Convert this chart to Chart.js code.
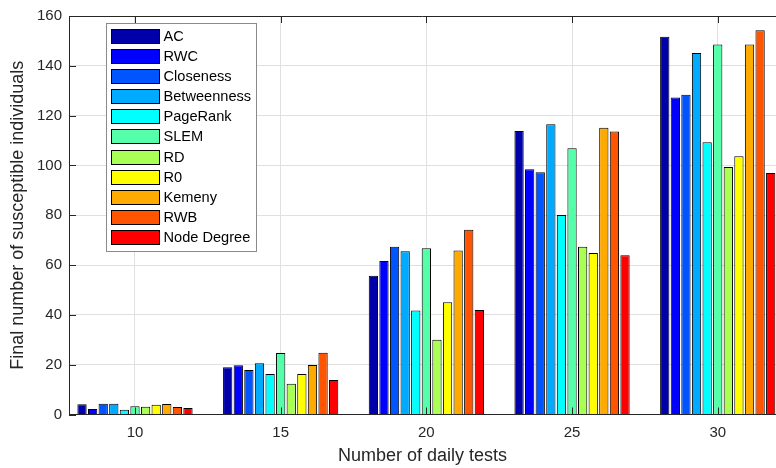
<!DOCTYPE html>
<html>
<head>
<meta charset="utf-8">
<script src="https://cdn.jsdelivr.net/npm/chart.js@4.4.1/dist/chart.umd.min.js"></script>
<style>
    html, body { margin: 0; padding: 0; background: #fff; overflow: hidden; }
</style>
</head>
<body>
<canvas id="chart1" width="776" height="468"></canvas>
<script>
// Etiquetas del eje x (número de pruebas diarias).
const PRUEBAS = [10, 15, 20, 25, 30];
// Marcas del eje y.
const MARCAS_Y = [0, 20, 40, 60, 80, 100, 120, 140, 160];
// Nombres de los métodos que aparecen en la leyenda.
const METODOS = ['AC', 'RWC', 'Closeness', 'Betweenness', 'PageRank', 'SLEM', 'RD', 'R0', 'Kemeny', 'RWB', 'Node Degree'];
// Colores de cada método (mapa jet).
const COLORES = ['#0000aa', '#0000ff', '#0055ff', '#00aaff', '#00ffff', '#55ffaa', '#aaff55', '#ffff00', '#ffaa00', '#ff5500', '#ff0000'];

// Valores finales de individuos susceptibles por método, uno por cada número de pruebas.
const AC = [4.1, 19.0, 55.7, 113.8, 151.7];
const RWC = [2.2, 19.8, 61.6, 98.5, 127.3];
const CLOSENESS = [4.3, 17.9, 67.4, 97.3, 128.4];
const BETWEENNESS = [4.3, 20.6, 65.5, 116.5, 145.1];
const PAGERANK = [1.9, 16.3, 41.8, 80.1, 109.3];
const SLEM = [3.3, 24.7, 66.8, 106.9, 148.6];
const RD = [3.1, 12.3, 30.0, 67.4, 99.4];
const R0 = [3.9, 16.3, 45.1, 64.8, 103.7];
const KEMENY = [4.2, 19.9, 65.8, 115.1, 148.6];
const RWB = [3.0, 24.8, 74.2, 113.6, 154.3];
const NODE_DEGREE = [2.6, 13.9, 42.0, 63.9, 97.0];

const SERIES = [AC, RWC, CLOSENESS, BETWEENNESS, PAGERANK, SLEM, RD, R0, KEMENY, RWB, NODE_DEGREE];

const COLOR_EJE = '#262626';
const FUENTE = '"Liberation Sans", Arial, Helvetica, sans-serif';

/*
*   Plugin para dibujar el marco superior, las marcas interiores y la leyenda.
*/
const marcoPlugin = {
    id: 'marco',
    afterDatasetsDraw: (chart) => {
        const ctx = chart.ctx;
        const area = chart.chartArea;
        const ejeX = chart.scales.x;
        const ejeY = chart.scales.y;
        ctx.save();
        ctx.strokeStyle = COLOR_EJE;
        ctx.lineWidth = 1;
        ctx.beginPath();
        // Línea superior del marco.
        const arriba = Math.round(area.top) + 0.5;
        ctx.moveTo(area.left, arriba);
        ctx.lineTo(area.right, arriba);
        // Marcas del eje x, abajo y arriba, hacia adentro.
        PRUEBAS.forEach(valor => {
            const px = Math.round(ejeX.getPixelForValue(valor)) + 0.5;
            ctx.moveTo(px, area.bottom);
            ctx.lineTo(px, area.bottom - 7);
            ctx.moveTo(px, area.top);
            ctx.lineTo(px, area.top + 7);
        });
        // Marcas del eje y hacia adentro.
        MARCAS_Y.forEach(valor => {
            const py = Math.round(ejeY.getPixelForValue(valor)) + 0.5;
            ctx.moveTo(area.left, py);
            ctx.lineTo(area.left + 7, py);
        });
        ctx.stroke();
        ctx.restore();
    },
    afterDraw: (chart) => {
        const ctx = chart.ctx;
        ctx.save();
        // Caja de la leyenda.
        ctx.fillStyle = '#ffffff';
        ctx.fillRect(106, 23, 151, 229);
        ctx.strokeStyle = '#8a8a8a';
        ctx.lineWidth = 1;
        ctx.strokeRect(106.5, 23.5, 150, 228);
        ctx.font = `14.6px ${FUENTE}`;
        ctx.textBaseline = 'middle';
        ctx.textAlign = 'left';
        METODOS.forEach((nombre, i) => {
            const top = Math.round(28.5 + i * 20.17);
            ctx.fillStyle = COLORES[i];
            ctx.fillRect(111, top, 49, 15);
            ctx.strokeStyle = '#000000';
            ctx.strokeRect(111.5, top + 0.5, 48, 14);
            ctx.fillStyle = '#000000';
            ctx.fillText(nombre, 163.5, top + 8);
        });
        ctx.restore();
    }
};

// Se construyen los conjuntos de datos a partir de las series.
const conjuntos = METODOS.map((nombre, i) => ({
    label: nombre,
    data: SERIES[i],
    backgroundColor: COLORES[i],
    borderColor: '#000000',
    borderWidth: 1,
    categoryPercentage: 0.8,
    barPercentage: 0.876
}));

new Chart(document.getElementById('chart1').getContext('2d'), {
    type: 'bar',
    data: {
        labels: PRUEBAS,
        datasets: conjuntos
    },
    options: {
        responsive: false,
        animation: false,
        layout: {
            padding: { top: 16, right: 0, left: 0, bottom: 0 }
        },
        plugins: {
            legend: { display: false },
            tooltip: { enabled: false }
        },
        scales: {
            x: {
                type: 'linear',
                offset: false,
                min: 7.735,
                max: 32.0,
                afterBuildTicks: (eje) => { eje.ticks = PRUEBAS.map(v => ({ value: v })); },
                afterFit: (eje) => { eje.height = 53.5; },
                grid: { color: '#e0e0e0', drawTicks: false, offset: false },
                border: { color: COLOR_EJE, width: 1 },
                ticks: {
                    padding: 9,
                    color: COLOR_EJE,
                    font: { family: FUENTE, size: 15 },
                    callback: (valor) => String(valor)
                },
                title: {
                    display: true,
                    text: 'Number of daily tests',
                    color: COLOR_EJE,
                    font: { family: FUENTE, size: 18 },
                    padding: { top: 0, bottom: 1 }
                }
            },
            y: {
                min: 0,
                max: 160,
                afterBuildTicks: (eje) => { eje.ticks = MARCAS_Y.map(v => ({ value: v })); },
                afterFit: (eje) => { eje.width = 69; },
                grid: { color: '#e0e0e0', drawTicks: false },
                border: { color: COLOR_EJE, width: 1 },
                ticks: {
                    padding: 7,
                    color: COLOR_EJE,
                    font: { family: FUENTE, size: 15 }
                },
                title: {
                    display: true,
                    text: 'Final number of susceptible individuals',
                    color: COLOR_EJE,
                    font: { family: FUENTE, size: 18 },
                    padding: { top: 7.5, bottom: 0 }
                }
            }
        }
    },
    plugins: [marcoPlugin]
});
</script>
</body>
</html>
